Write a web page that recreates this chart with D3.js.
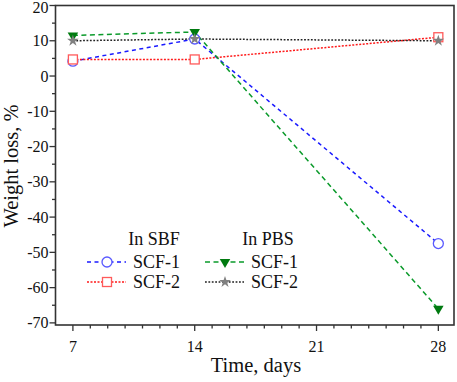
<!DOCTYPE html>
<html>
<head>
<meta charset="utf-8">
<script src="https://cdn.jsdelivr.net/npm/d3@7"></script>
<style>
  body { margin: 0; background: #fff; }
  svg text { font-family: "Liberation Serif", "Times New Roman", serif; fill: #111; }
</style>
</head>
<body>
<svg id="chart" width="457" height="382" font-family="Liberation Serif"></svg>
<script>
// days of measurement
var days = [7, 14, 28];
// weight loss, %
var sbf_scf1 = [4.2, 10.5, -47.5];
var sbf_scf2 = [4.7, 4.7, 11];
var pbs_scf1 = [11.5, 12.5, -66];
var pbs_scf2 = [10, 10.5, 10];
var xTicks = [7, 14, 21, 28];
var yTicks = [20, 10, 0, -10, -20, -30, -40, -50, -60, -70];

var series = [
    {name: 'SCF-1', group: 'SBF', values: sbf_scf1, line: '#1a1aff', marker: '#5a5aff', dash: '4,3.5', sym: 'circle', fill: 'none'},
    {name: 'SCF-2', group: 'SBF', values: sbf_scf2, line: '#ff1a1a', marker: '#ff5a5a', dash: '2,1.5', sym: 'square', fill: 'none'},
    {name: 'SCF-1', group: 'PBS', values: pbs_scf1, line: '#0a9a2a', marker: '#007a10', dash: '5,3.5', sym: 'tri', fill: '#007a10'},
    {name: 'SCF-2', group: 'PBS', values: pbs_scf2, line: '#222', marker: '#808080', dash: '1.8,1.6', sym: 'star', fill: '#808080'}
];

var svg = d3.select('#chart');
var pLeft = 55.5, pRight = 454, pTop = 5.5, pBottom = 325;

var x = d3.scaleLinear().domain([6, 28.9]).range([pLeft, pRight]);
var y = d3.scaleLinear().domain([-70.6, 20]).range([pBottom, pTop]);

function marker(sel, s){
    if (s.sym == 'circle'){
        sel.append('circle').attr('r', 5)
            .attr('fill', 'white').attr('stroke', s.marker).attr('stroke-width', 1.3);
    } else if (s.sym == 'square'){
        sel.append('rect').attr('x', -4.5).attr('y', -4.5).attr('width', 9).attr('height', 9)
            .attr('fill', 'white').attr('stroke', s.marker).attr('stroke-width', 1.3);
    } else if (s.sym == 'tri'){
        sel.append('path').attr('d', d3.symbol().type(d3.symbolTriangle).size(48)())
            .attr('transform', 'rotate(180)')
            .attr('fill', s.fill);
    } else {
        sel.append('path').attr('d', d3.symbol().type(d3.symbolStar).size(42)())
            .attr('fill', s.fill);
    }
}

// lines
var line = d3.line().x(function(d, i){ return x(days[i]); }).y(function(d){ return y(d); });
series.forEach(function(s){
    svg.append('path')
        .attr('d', line(s.values))
        .attr('fill', 'none')
        .attr('stroke', s.line)
        .attr('stroke-width', 1.5)
        .attr('stroke-dasharray', s.dash);
});
series.forEach(function(s){
    s.values.forEach(function(v, i){
        var g = svg.append('g').attr('transform', 'translate(' + x(days[i]) + ',' + y(v) + ')');
        marker(g, s);
    });
});

// frame
svg.append('rect')
    .attr('x', pLeft).attr('y', pTop)
    .attr('width', pRight - pLeft).attr('height', pBottom - pTop)
    .attr('fill', 'none').attr('stroke', '#333').attr('stroke-width', 1.6);

// x axis
var xAxis = svg.append('g').attr('transform', 'translate(0,' + pBottom + ')');
xAxis.selectAll('.minor').data(d3.range(7, 29)).enter().append('line')
    .attr('x1', function(d){ return x(d); }).attr('x2', function(d){ return x(d); })
    .attr('y1', 0).attr('y2', function(d){ return xTicks.indexOf(d) >= 0 ? 6 : 3.5; })
    .attr('stroke', '#333').attr('stroke-width', 1.3);
xAxis.selectAll('.lbl').data(xTicks).enter().append('text')
    .attr('x', function(d){ return x(d); }).attr('y', 27)
    .attr('text-anchor', 'middle').attr('font-size', 16)
    .text(function(d){ return d; });

// y axis
var yAxis = svg.append('g').attr('transform', 'translate(' + pLeft + ',0)');
yAxis.selectAll('.minor').data(d3.range(-70, 21, 5)).enter().append('line')
    .attr('y1', function(d){ return y(d); }).attr('y2', function(d){ return y(d); })
    .attr('x1', 0).attr('x2', function(d){ return d % 10 == 0 ? -6 : -3.5; })
    .attr('stroke', '#333').attr('stroke-width', 1.3);
yAxis.selectAll('.lbl').data(yTicks).enter().append('text')
    .attr('x', -7).attr('y', function(d){ return Math.max(y(d) + 5.5, 13); })
    .attr('text-anchor', 'end').attr('font-size', 16)
    .text(function(d){ return d; });

svg.append('text')
    .attr('transform', 'translate(17.5,166) rotate(-90)')
    .attr('text-anchor', 'middle').attr('font-size', 20.5)
    .text('Weight loss, %');
svg.append('text')
    .attr('x', 256).attr('y', 372)
    .attr('text-anchor', 'middle').attr('font-size', 20.5)
    .text('Time, days');

// legend
var legend = svg.append('g');
var cols = [{g: 'SBF', x0: 87, head: 154}, {g: 'PBS', x0: 205, head: 268}];
cols.forEach(function(c){
    legend.append('text').attr('x', c.head).attr('y', 245)
        .attr('text-anchor', 'middle').attr('font-size', 18)
        .text('In ' + c.g);
    series.filter(function(s){ return s.group == c.g; }).forEach(function(s, i){
        var yy = 262 + i * 20;
        legend.append('line')
            .attr('x1', c.x0).attr('x2', c.x0 + 39).attr('y1', yy).attr('y2', yy)
            .attr('stroke', s.line).attr('stroke-width', 1.5).attr('stroke-dasharray', s.dash);
        var g = legend.append('g').attr('transform', 'translate(' + (c.x0 + 20) + ',' + yy + ')');
        marker(g, s);
        legend.append('text').attr('x', c.x0 + 46).attr('y', yy + 6)
            .attr('font-size', 18).text(s.name);
    });
});
</script>
</body>
</html>
